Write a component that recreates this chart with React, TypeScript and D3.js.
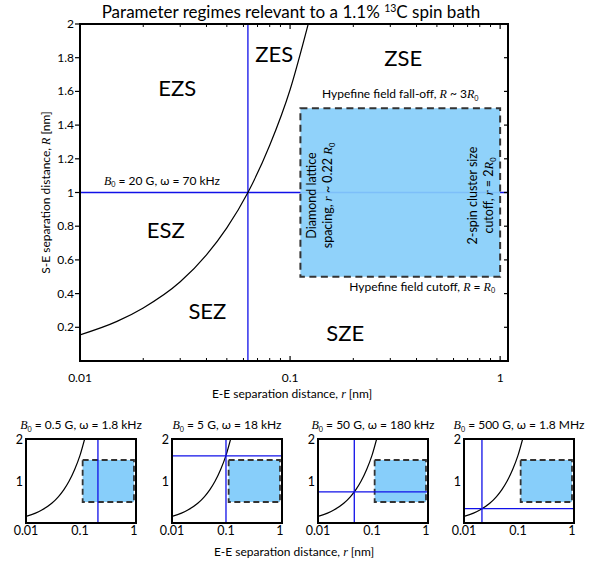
import React from 'react';
import * as d3 from 'd3';

// E-E separation r [nm] vs S-E separation R [nm] boundary
const boundaryR = [0.01, 0.015, 0.02, 0.03, 0.04, 0.05, 0.063, 0.08, 0.1, 0.122];
const boundarySE = [0.155, 0.235, 0.315, 0.47, 0.63, 0.79, 1.0, 1.28, 1.61, 2.0];

// shaded region: diamond lattice spacing .. 2-spin cutoff, R0 .. 3R0
const boxEE = [0.112, 1.0];
const boxSE = [0.5, 1.5];

// main panel field
const mainField = { b: '20 G', w: '70 kHz', r: 0.063, R: 1.0 };

// small panels
const fieldB = ['0.5 G', '5 G', '50 G', '500 G'];
const fieldW = ['1.8 kHz', '18 kHz', '180 kHz', '1.8 MHz'];
const fieldEE = [0.215, 0.1, 0.047, 0.0215];
const fieldSE = [3.4, 1.6, 0.74, 0.34];

const regimes = ['EZS', 'ZES', 'ZSE', 'ESZ', 'SEZ', 'SZE'];
const regimeEE = [0.029, 0.084, 0.346, 0.0256, 0.0404, 0.183];
const regimeSE = [1.62, 1.82, 1.8, 0.78, 0.297, 0.168];

const yTicks = [0.2, 0.4, 0.6, 0.8, 1, 1.2, 1.4, 1.6, 1.8, 2];
const xTicks = [0.01, 0.1, 1];
const xTickLabels = ['0.01', '0.1', '1'];

const SANS = "Lato, 'Open Sans', sans-serif";
const SERIF = "'Liberation Serif', serif";
const BLUE = '#1010e8';
const BOXFILL = '#87cefa';

const It = ({ c }: { c: string }) => (
  <tspan fontFamily={SERIF} fontStyle="italic">{c}</tspan>
);
const Sub0 = () => (
  <tspan fontSize="0.6em" dy="2.5">0</tspan>
);

const minorTicks = () => {
  const out: number[] = [];
  [0.01, 0.1].forEach((d) => {
    for (let k = 2; k <= 9; k++) out.push(d * k);
  });
  return out;
};

const FieldTitle = ({ b, w, x, y, size }: any) => (
  <text x={x} y={y} textAnchor="middle" fontSize={size} fontFamily={SANS}>
    <It c="B" />
    <Sub0 />
    <tspan dy="-2.5">{` = ${b}, \u03c9 = ${w}`}</tspan>
  </text>
);

const MainPanel = () => {
  const left = 80, right = 508, top = 24, bottom = 361;
  const x = d3.scaleLog().domain([0.01, 1.09]).range([left, right]);
  const y = d3.scaleLinear().domain([0, 2]).range([bottom, top]);
  const line = d3
    .line<number>()
    .x((_, i) => x(boundaryR[i]))
    .y((d) => y(d))
    .curve(d3.curveMonotoneX);
  const bx0 = x(boxEE[0]), bx1 = x(boxEE[1]);
  const by0 = y(boxSE[1]), by1 = y(boxSE[0]);
  const bcx = (bx0 + bx1) / 2;
  const bcy = (by0 + by1) / 2 + 3;

  return (
    <g>
      <defs>
        <clipPath id="clip-main">
          <rect x={left} y={top} width={right - left} height={bottom - top} />
        </clipPath>
      </defs>
      <text x={291} y={18} textAnchor="middle" fontSize={17} fontFamily={SANS}>
        Parameter regimes relevant to a 1.1%{' '}
        <tspan fontSize="0.62em" dy="-6">13</tspan>
        <tspan dy="6">C spin bath</tspan>
      </text>

      <g clipPath="url(#clip-main)">
        <line x1={x(mainField.r)} x2={x(mainField.r)} y1={top} y2={bottom} stroke={BLUE} strokeWidth={1.3} />
        <line x1={left} x2={right} y1={y(mainField.R)} y2={y(mainField.R)} stroke={BLUE} strokeWidth={1.3} />
        <path d={line(boundarySE) || ''} fill="none" stroke="#000" strokeWidth={1.2} />
        <rect x={bx0} y={by0} width={bx1 - bx0} height={by1 - by0} fill={BOXFILL} fillOpacity={0.92}
          stroke="#333" strokeWidth={2} strokeDasharray="7,4.5" />
      </g>

      {regimes.map((name, i) => (
        <text key={name} x={x(regimeEE[i])} y={y(regimeSE[i]) + 8} textAnchor="middle"
          fontSize={22} fontFamily={SANS}>{name}</text>
      ))}

      <FieldTitle b={mainField.b} w={mainField.w} x={162} y={y(mainField.R) - 8} size={12} />

      <text x={bcx} y={by0 - 10} textAnchor="middle" fontSize={12} fontFamily={SANS}>
        Hypefine field fall-off, <It c="R" /> ~ 3<It c="R" /><Sub0 />
      </text>
      <text x={bx1 - 5} y={by1 + 14} textAnchor="end" fontSize={12} fontFamily={SANS}>
        Hypefine field cutoff, <It c="R" /> = <It c="R" /><Sub0 />
      </text>
      <g fontSize={12.5} fontFamily={SANS} textAnchor="middle">
        <text transform={`translate(${bx0 + 16},${bcy}) rotate(-90)`}>Diamond lattice</text>
        <text transform={`translate(${bx0 + 32},${bcy}) rotate(-90)`}>
          spacing, <It c="r" /> ~ 0.22 <It c="R" /><Sub0 />
        </text>
        <text transform={`translate(${bx1 - 23},${bcy}) rotate(-90)`}>2-spin cluster size</text>
        <text transform={`translate(${bx1 - 7},${bcy}) rotate(-90)`}>
          cutoff, <It c="r" /> = 2<It c="R" /><Sub0 />
        </text>
      </g>

      {/* frame and ticks */}
      <rect x={left} y={top} width={right - left} height={bottom - top} fill="none" stroke="#000" strokeWidth={2} />
      {yTicks.map((t) => (
        <g key={t}>
          <line x1={left - 5} x2={left} y1={y(t)} y2={y(t)} stroke="#000" strokeWidth={1.2} />
          <line x1={right - 4} x2={right} y1={y(t)} y2={y(t)} stroke="#000" strokeWidth={1.2} />
          <text x={left - 6} y={y(t) + 4} textAnchor="end" fontSize={12} fontFamily={SANS}>{String(t)}</text>
        </g>
      ))}
      {minorTicks().map((t) => (
        <g key={t}>
          <line x1={x(t)} x2={x(t)} y1={bottom} y2={bottom - 3} stroke="#000" strokeWidth={1} />
          <line x1={x(t)} x2={x(t)} y1={top} y2={top + 3} stroke="#000" strokeWidth={1} />
        </g>
      ))}
      {xTicks.map((t, i) => (
        <g key={t}>
          <line x1={x(t)} x2={x(t)} y1={bottom} y2={bottom - 5} stroke="#000" strokeWidth={1.2} />
          <line x1={x(t)} x2={x(t)} y1={top} y2={top + 5} stroke="#000" strokeWidth={1.2} />
          <text x={x(t)} y={382} textAnchor="middle" fontSize={12} fontFamily={SANS}>{xTickLabels[i]}</text>
        </g>
      ))}
      <text x={292} y={398} textAnchor="middle" fontSize={12} fontFamily={SANS}>
        E-E separation distance, <It c="r" /> [nm]
      </text>
      <text transform={`translate(50,${(top + bottom) / 2}) rotate(-90)`} textAnchor="middle" fontSize={12} fontFamily={SANS}>
        S-E separation distance, <It c="R" /> [nm]
      </text>
    </g>
  );
};

const SmallPanel = ({ i, left }: { i: number; left: number }) => {
  const width = 110, top = 439, bottom = 523;
  const right = left + width;
  const x = d3.scaleLog().domain([0.01, 1.09]).range([left, right]);
  const y = d3.scaleLinear().domain([0, 2]).range([bottom, top]);
  const line = d3
    .line<number>()
    .x((_, k) => x(boundaryR[k]))
    .y((d) => y(d))
    .curve(d3.curveMonotoneX);
  const id = `clip-s${i}`;
  return (
    <g>
      <defs>
        <clipPath id={id}>
          <rect x={left} y={top} width={width} height={bottom - top} />
        </clipPath>
      </defs>
      <FieldTitle b={fieldB[i]} w={fieldW[i]} x={left + width / 2} y={429} size={12} />
      <g clipPath={`url(#${id})`}>
        <path d={line(boundarySE) || ''} fill="none" stroke="#000" strokeWidth={1.2} />
        <rect x={x(boxEE[0])} y={y(boxSE[1])} width={x(boxEE[1]) - x(boxEE[0])} height={y(boxSE[0]) - y(boxSE[1])}
          fill={BOXFILL} stroke="#333" strokeWidth={1.8} strokeDasharray="6,3.5" />
        <line x1={x(fieldEE[i])} x2={x(fieldEE[i])} y1={top} y2={bottom} stroke={BLUE} strokeWidth={1.3} />
        <line x1={left} x2={right} y1={y(fieldSE[i])} y2={y(fieldSE[i])} stroke={BLUE} strokeWidth={1.3} />
      </g>
      <rect x={left} y={top} width={width} height={bottom - top} fill="none" stroke="#000" strokeWidth={2} />
      {[1, 2].map((t) => (
        <text key={t} x={left - 3} y={y(t) + 5} textAnchor="end" fontSize={12.5} fontFamily={SANS}>{t}</text>
      ))}
      {xTicks.map((t, k) => (
        <text key={t} x={x(t)} y={535} textAnchor="middle" fontSize={12.5} fontFamily={SANS}>{xTickLabels[k]}</text>
      ))}
    </g>
  );
};

const panelLefts = [26, 172, 318, 464];

export default function App() {
  return (
    <svg width={613} height={566} style={{ position: 'absolute', left: 0, top: 0, background: '#fff' }}>
      <MainPanel />
      {panelLefts.map((l, i) => (
        <SmallPanel key={i} i={i} left={l} />
      ))}
      <text x={294} y={556} textAnchor="middle" fontSize={12} fontFamily={SANS}>
        E-E separation distance, <It c="r" /> [nm]
      </text>
    </svg>
  );
}
